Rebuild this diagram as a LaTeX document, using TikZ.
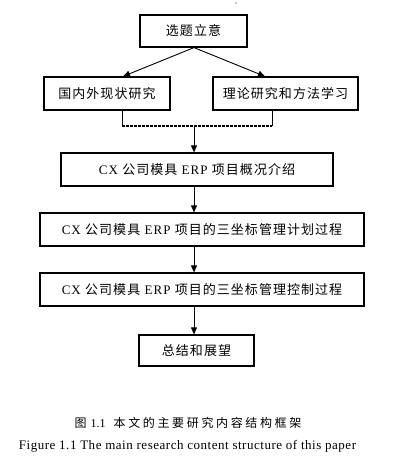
\documentclass[tikz,border=0pt]{standalone}
\usepackage{fontspec}
\setmainfont{Liberation Serif}
\newfontfamily\cjk[LetterSpace=8]{Noto Sans CJK SC}
\newfontfamily\lat[LetterSpace=8]{Liberation Serif}
\newfontfamily\latcap[LetterSpace=4]{Liberation Serif}
\newfontfamily\cjkcap[LetterSpace=22]{Noto Sans CJK SC}
\usetikzlibrary{arrows.meta}
\begin{document}
\begin{tikzpicture}[x=1pt,y=-1pt,
  box/.style={draw,line width=1.2pt,rectangle,inner sep=0pt,font=\fontsize{13}{15}\lat},
  conn/.style={line width=0.9pt},
  arr/.style={conn,-{Triangle[length=7pt,width=6pt]}}]
\useasboundingbox (0,0) rectangle (406,462);
\fill[white] (0,0) rectangle (406,462);
\fill (236,3) circle (0.6);
\node[box,minimum width=107pt,minimum height=32pt] (top) at (193.5,31) {\cjk 选题立意};
\node[box,minimum width=126pt,minimum height=33pt] (left) at (107,93.5) {\cjk 国内外现状研究};
\node[box,minimum width=145pt,minimum height=33pt] (right) at (285.5,93.5) {\cjk 理论研究和方法学习};
\node[box,minimum width=272pt,minimum height=33pt] (b1) at (197,169.5) {CX {\cjk 公司模具} ERP {\cjk 项目概况介绍}};
\node[box,minimum width=324pt,minimum height=33pt] (b2) at (202,229.5) {CX {\cjk 公司模具} ERP {\cjk 项目的三坐标管理计划过程}};
\node[box,minimum width=324pt,minimum height=33pt] (b3) at (202,289.5) {CX {\cjk 公司模具} ERP {\cjk 项目的三坐标管理控制过程}};
\node[box,minimum width=115pt,minimum height=31pt] (b4) at (196.5,350.5) {\cjk 总结和展望};
\coordinate (jl) at (122,126);
\coordinate (jr) at (272,126);
\coordinate (j) at (194,126);
\coordinate (al) at (123,0);
\coordinate (ar) at (265,0);
\draw[arr] (top.south -| j) -- (left.north -| al);
\draw[arr] (top.south -| j) -- (right.north -| ar);
\draw[conn] (left.south -| jl) -- (jl);
\draw[conn] (right.south -| jr) -- (jr);
\draw[line width=1.4pt,dash pattern=on 3pt off 1pt] (jl) -- (jr);
\draw[arr] (j) -- (b1.north -| j);
\draw[arr] (b1.south -| j) -- (b2.north -| j);
\draw[arr] (b2.south -| j) -- (b3.north -| j);
\draw[arr] (b3.south -| j) -- (b4.north -| j);
\node[font=\fontsize{12}{14}\selectfont] (cap1) at (188,423) {{\cjkcap 图}\hspace{4pt}1.1\hspace{8pt}{\cjkcap 本文的主要研究内容结构框架}};
\node[font=\fontsize{13}{15}\latcap] (cap2) at (187.5,446) {Figure 1.1 The main research content structure of this paper};
\end{tikzpicture}
\end{document}
